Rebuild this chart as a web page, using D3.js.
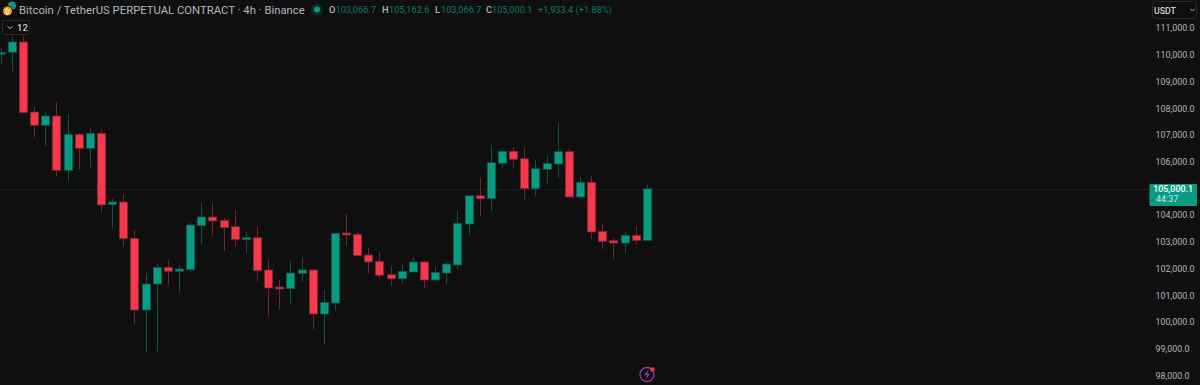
<!DOCTYPE html>
<html>
<head>
<meta charset="utf-8">
<title>BTCUSDT 4h</title>
<script src="https://cdn.jsdelivr.net/npm/d3@7/dist/d3.min.js"></script>
<style>
  html, body { margin: 0; padding: 0; background: #0f0f0f; overflow: hidden; }
  svg { display: block; font-family: Roboto, "Liberation Sans", sans-serif; }
</style>
</head>
<body>
<svg id="chart" width="1200" height="385"></svg>
<script>
// Values, oldest candle first
const opens = [110050, 110110, 110495, 107876, 107380, 107727, 105695, 107042, 106518, 107079,
  104408, 104509, 103151, 100469, 101442, 102066, 101917, 101977, 103623, 103948,
  103825, 103585, 103099, 103174, 101965, 101329, 101266, 101842, 101965, 100319,
  100731, 103350, 103301, 102527, 102291, 101790, 101640, 101891, 102265, 101591,
  101853, 102153, 103686, 104745, 104633, 105957, 106406, 106129, 105007, 105733,
  105931, 106391, 104696, 105246, 103413, 103062, 102975, 103264, 103066.7];
const highs = [110270, 110690, 110720, 108075, 107876, 108262, 107801, 107102, 107278, 107240,
  104633, 104797, 103462, 101842, 102190, 102313, 102152, 103735, 104483, 104470,
  103911, 104210, 103387, 103585, 102366, 101591, 102313, 102452, 102014, 101217,
  103350, 104060, 103376, 102788, 102639, 102141, 102179, 102441, 102302, 102078,
  102253, 104173, 104760, 105433, 106642, 106420, 106556, 106556, 106069, 106230,
  107465, 106492, 105456, 105471, 103686, 103163, 103387, 103611, 105162.6];
const lows = [109650, 109380, 107840, 106930, 106604, 105482, 105295, 105744, 105807, 104124,
  103537, 102837, 99945, 98872, 98898, 101416, 101116, 101865, 102964, 103249,
  102687, 102837, 102590, 101554, 100218, 100495, 100694, 101517, 99747, 99171,
  100443, 102863, 102490, 101842, 101640, 101367, 101468, 101880, 101292, 101585,
  101442, 101992, 103275, 103986, 104184, 105793, 105755, 104595, 104723, 105194,
  105396, 104690, 104690, 103125, 102751, 102388, 102602, 102938, 103066.7];
const closes = [110100, 110495, 107850, 107379, 107727, 105695, 107042, 106518, 107079, 104397,
  104509, 103136, 100469, 101442, 102066, 101917, 102003, 103649, 103948, 103799,
  103548, 103099, 103174, 101939, 101292, 101255, 101853, 101965, 100319, 100757,
  103338, 103275, 102500, 102265, 101767, 101640, 101917, 102265, 101591, 101879,
  102190, 103713, 104745, 104633, 105980, 106406, 106107, 105007, 105755, 105957,
  106391, 104696, 105246, 103387, 103039, 102975, 103264, 103067, 105000.1];

// 105,000.0 sits under the last price tag, so it is left out
const priceTicks = [98000, 99000, 100000, 101000, 102000, 103000, 104000,
  106000, 107000, 108000, 109000, 110000, 111000];
const lastPrice = 105000.1;
const countdown = "44:37";

const titleText = "Bitcoin / TetherUS PERPETUAL CONTRACT \u00b7 4h \u00b7 Binance";
const ohlcLabels = ["O", "H", "L", "C"];
const ohlcValues = ["103,066.7", "105,162.6", "103,066.7", "105,000.1"];
const changeText = "+1,933.4 (+1.88%)";

const green = "#0a9c83";
const red = "#f7374b";
const greenWick = "#0b5347";
const redWick = "#6e2630";
const bodyWidth = 8.4;

const svg = d3.select("#chart");

const x = d3.scaleLinear().domain([0, opens.length - 1]).range([1.3, 647.3]);
const y = d3.scaleLinear().domain([98000, 111000]).range([376, 28.5]);

// Last price line behind the candles
svg.append("line")
  .attr("x1", 0).attr("x2", 1149)
  .attr("y1", Math.round(y(lastPrice)) + 0.5).attr("y2", Math.round(y(lastPrice)) + 0.5)
  .attr("stroke", green).attr("stroke-opacity", 0.3)
  .attr("stroke-dasharray", "1 1");

// Candles
const candles = svg.append("g").selectAll("g")
  .data(d3.range(opens.length))
  .join("g");

candles.append("line")
  .attr("x1", i => Math.floor(x(i)) + 0.5)
  .attr("x2", i => Math.floor(x(i)) + 0.5)
  .attr("y1", i => y(highs[i]))
  .attr("y2", i => y(lows[i]))
  .attr("stroke", i => closes[i] >= opens[i] ? greenWick : redWick);

candles.append("rect")
  .attr("x", i => Math.floor(x(i)) + 0.5 - bodyWidth / 2)
  .attr("width", bodyWidth)
  .attr("y", i => y(Math.max(opens[i], closes[i])))
  .attr("height", i => Math.max(1.5, Math.abs(y(opens[i]) - y(closes[i]))))
  .attr("fill", i => closes[i] >= opens[i] ? green : red)
  .attr("stroke", i => closes[i] >= opens[i] ? greenWick : redWick)
  .attr("stroke-width", 0.8);

// Price axis
const yAxis = svg.append("g")
  .attr("transform", "translate(1155.5,-0.5)")
  .call(d3.axisRight(y).tickValues(priceTicks).tickSize(0).tickPadding(0)
    .tickFormat(d3.format(",.1f")));
yAxis.select(".domain").remove();
yAxis.selectAll("text")
  .attr("fill", "#b2b5be")
  .attr("font-size", 8.9)
  .attr("font-family", "Roboto, sans-serif");

// Last price tag
svg.append("rect")
  .attr("x", 1149.5).attr("y", 184)
  .attr("width", 47.5).attr("height", 22)
  .attr("rx", 1).attr("fill", green);
svg.append("text")
  .attr("x", 1193).attr("y", y(lastPrice) + 3.5)
  .attr("text-anchor", "end")
  .attr("font-size", 8.9).attr("font-weight", 500).attr("fill", "#ffffff")
  .text(d3.format(",.1f")(lastPrice));
svg.append("text")
  .attr("x", 1156).attr("y", y(lastPrice) + 13.5)
  .attr("font-size", 9).attr("fill", "#cfe9e3")
  .text(countdown);

// Currency button
svg.append("rect")
  .attr("x", 1152.5).attr("y", 1.5).attr("width", 44).attr("height", 17)
  .attr("rx", 3).attr("fill", "#0f0f0f").attr("stroke", "#2a2a2a");
svg.append("text")
  .attr("x", 1154).attr("y", 13.5)
  .attr("font-size", 8.8).attr("font-weight", 500).attr("fill", "#d1d4dc")
  .text("USDT");
svg.append("path")
  .attr("d", "M1190.5 9l2 2 2-2")
  .attr("fill", "none").attr("stroke", "#b2b5be");

// Header icons
svg.append("circle").attr("cx", 12).attr("cy", 5.5).attr("r", 4).attr("fill", "#1f8a8c");
svg.append("circle").attr("cx", 7.5).attr("cy", 11).attr("r", 5).attr("fill", "#f7931a")
  .attr("stroke", "#0f0f0f");
svg.append("text")
  .attr("x", 7.5).attr("y", 13.5).attr("text-anchor", "middle")
  .attr("font-size", 6.5).attr("font-weight", 700).attr("fill", "#fbe3c0")
  .text("\u20bf");

svg.append("text")
  .attr("x", 19).attr("y", 14)
  .attr("font-size", 11.3).attr("fill", "#b2b5be")
  .text(titleText);

// Market status dot
svg.append("circle").attr("cx", 317).attr("cy", 9.5).attr("r", 6).attr("fill", "#0c2c28");
svg.append("circle").attr("cx", 317).attr("cy", 9.5).attr("r", 3).attr("fill", "#089981");

// OHLC legend
const labelX = [329, 382, 435, 486];
const valueX = [335.5, 389, 441, 492];
ohlcLabels.forEach((label, i) => {
  svg.append("text")
    .attr("x", labelX[i]).attr("y", 13)
    .attr("font-size", 9.2).attr("font-weight", 500).attr("fill", "#b2b5be")
    .text(label);
  svg.append("text")
    .attr("x", valueX[i]).attr("y", 13)
    .attr("font-size", 9.2).attr("fill", "#0b7c6a")
    .text(ohlcValues[i]);
});
svg.append("text")
  .attr("x", 538).attr("y", 13)
  .attr("font-size", 9.2).attr("fill", "#0b7c6a")
  .text(changeText);

// Collapsed indicators button
svg.append("rect")
  .attr("x", 2.5).attr("y", 20.5).attr("width", 27).attr("height", 14)
  .attr("rx", 2).attr("fill", "#0f0f0f").attr("stroke", "#2a2a2a");
svg.append("path")
  .attr("d", "M7.5 26.5l2.5 2 2.5-2")
  .attr("fill", "none").attr("stroke", "#b2b5be");
svg.append("text")
  .attr("x", 17).attr("y", 31)
  .attr("font-size", 9.5).attr("font-weight", 500).attr("fill", "#c8cad0")
  .text("12");

// Lightning badge at the bottom
svg.append("circle").attr("cx", 647).attr("cy", 374.5).attr("r", 7)
  .attr("fill", "none").attr("stroke", "#8e3fa8").attr("stroke-width", 1.3);
svg.append("path")
  .attr("d", "M648.5 369.5l-4.5 5.5h3l-1.5 4.5 4.5-5.5h-3z")
  .attr("fill", "#8e3fa8");
svg.append("circle").attr("cx", 652.5).attr("cy", 369.5).attr("r", 2.2).attr("fill", "#f23645");
</script>
</body>
</html>
